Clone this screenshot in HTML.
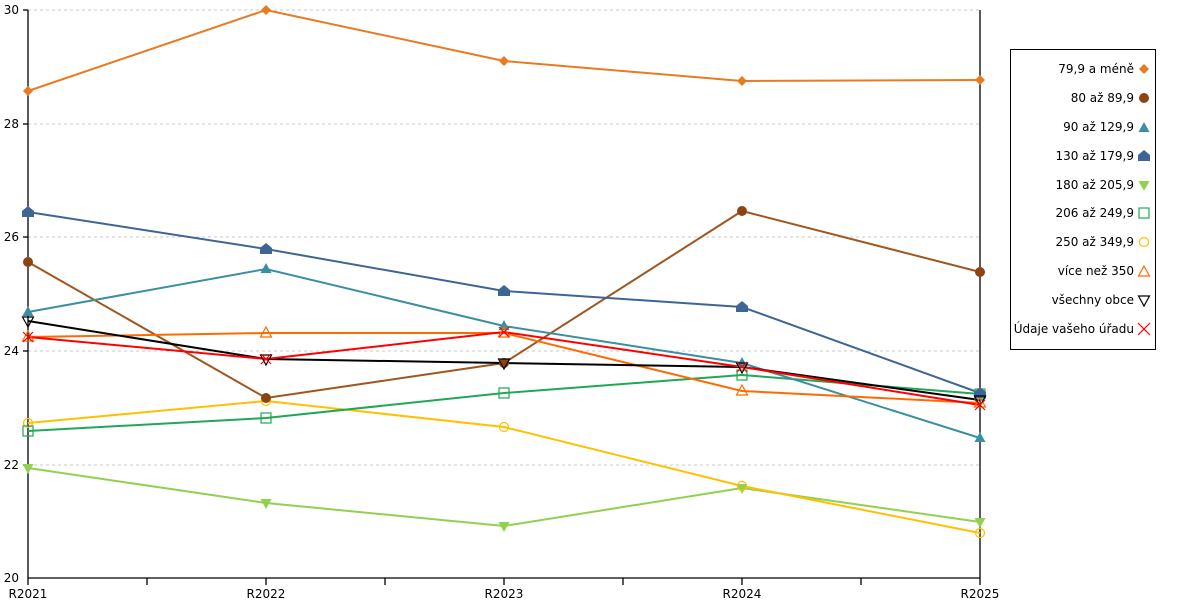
<!DOCTYPE html>
<html><head><meta charset="utf-8"><style>body{margin:0;background:#fff}svg{display:block;font-family:"DejaVu Sans","Liberation Sans",sans-serif}</style></head><body>
<svg width="1200" height="600" xmlns="http://www.w3.org/2000/svg">
<defs>
<path id="dia" d="M0,-5L5,0L0,5L-5,0Z"/>
<path id="tri" d="M0,-6L5.5,4L-5.5,4Z"/>
<path id="house" d="M0,-6L6,-1L6,5L-6,5L-6,-1Z"/>
<path id="dtri" d="M0,6L5.5,-4L-5.5,-4Z"/>
</defs>
<g stroke="#c8c8c8" stroke-dasharray="3,3" stroke-width="1">
<line x1="28" y1="10" x2="980" y2="10"/><line x1="28" y1="124" x2="980" y2="124"/><line x1="28" y1="237" x2="980" y2="237"/><line x1="28" y1="351" x2="980" y2="351"/><line x1="28" y1="465" x2="980" y2="465"/>
</g>
<g stroke="#000" stroke-width="1.3">
<line x1="28" y1="10" x2="28" y2="578"/><line x1="980" y1="10" x2="980" y2="585"/><line x1="28" y1="578" x2="980" y2="578"/>
<line x1="23" y1="10" x2="28" y2="10"/><line x1="23" y1="124" x2="28" y2="124"/><line x1="23" y1="237" x2="28" y2="237"/><line x1="23" y1="351" x2="28" y2="351"/><line x1="23" y1="465" x2="28" y2="465"/>
<line x1="28" y1="578" x2="28" y2="585"/><line x1="147" y1="578" x2="147" y2="585"/><line x1="266" y1="578" x2="266" y2="585"/><line x1="385" y1="578" x2="385" y2="585"/><line x1="504" y1="578" x2="504" y2="585"/><line x1="623" y1="578" x2="623" y2="585"/><line x1="742" y1="578" x2="742" y2="585"/><line x1="861" y1="578" x2="861" y2="585"/>
</g>
<g font-size="12" fill="#000" text-anchor="end">
<text x="19" y="14">30</text><text x="19" y="128">28</text><text x="19" y="241">26</text><text x="19" y="355">24</text><text x="19" y="469">22</text><text x="19" y="582">20</text>
</g>
<g font-size="12" fill="#000" text-anchor="middle">
<text x="28" y="598">R2021</text><text x="266" y="598">R2022</text><text x="504" y="598">R2023</text><text x="742" y="598">R2024</text><text x="980" y="598">R2025</text>
</g>
<g fill="none" stroke-width="2">
<polyline stroke="#92d050" points="28,468 266,503 504,526 742,488 980,522"/>
<polyline stroke="#ffc000" points="28,423 266,401 504,427 742,486 980,533"/>
<polyline stroke="#1fa855" points="28,431 266,418 504,393 742,375 980,394"/>
<polyline stroke="#a0561f" points="28,262 266,398 504,363 742,211 980,272"/>
<polyline stroke="#3a8fa0" points="28,312 266,269 504,326 742,363 980,438"/>
<polyline stroke="#ff6a00" points="28,337 266,333 504,333 742,391 980,403"/>
<polyline stroke="#3d6595" points="28,212 266,249 504,291 742,307 980,393"/>
<polyline stroke="#000" points="28,321 266,359 504,363 742,367 980,400"/>
<polyline stroke="#ff0000" points="28,337 266,359 504,332 742,367 980,405"/>
<polyline stroke="#e87a20" points="28,91 266,10 504,61 742,81 980,80"/>
</g>
<g fill="#92d050"><use href="#dtri" x="28" y="468"/><use href="#dtri" x="266" y="503"/><use href="#dtri" x="504" y="526"/><use href="#dtri" x="742" y="488"/><use href="#dtri" x="980" y="522"/></g>
<g fill="none" stroke="#ffc000" stroke-width="1.2"><circle cx="28" cy="423" r="4.5"/><circle cx="266" cy="401" r="4.5"/><circle cx="504" cy="427" r="4.5"/><circle cx="742" cy="486" r="4.5"/><circle cx="980" cy="533" r="4.5"/></g>
<g fill="none" stroke="#1fa855" stroke-width="1.2"><rect x="23" y="426" width="10" height="10"/><rect x="261" y="413" width="10" height="10"/><rect x="499" y="388" width="10" height="10"/><rect x="737" y="370" width="10" height="10"/><rect x="975" y="389" width="10" height="10"/></g>
<g fill="#8b4513"><circle cx="28" cy="262" r="5"/><circle cx="266" cy="398" r="5"/><circle cx="504" cy="363" r="5"/><circle cx="742" cy="211" r="5"/><circle cx="980" cy="272" r="5"/></g>
<g fill="#3a8fa0"><use href="#tri" x="28" y="312"/><use href="#tri" x="266" y="269"/><use href="#tri" x="504" y="326"/><use href="#tri" x="742" y="363"/><use href="#tri" x="980" y="438"/></g>
<g fill="none" stroke="#ff6a00" stroke-width="1.2"><use href="#tri" x="28" y="337"/><use href="#tri" x="266" y="333"/><use href="#tri" x="504" y="333"/><use href="#tri" x="742" y="391"/><use href="#tri" x="980" y="403"/></g>
<g fill="#3d6595"><use href="#house" x="28" y="212"/><use href="#house" x="266" y="249"/><use href="#house" x="504" y="291"/><use href="#house" x="742" y="307"/><use href="#house" x="980" y="393"/></g>
<g fill="none" stroke="#000" stroke-width="1.2"><use href="#dtri" x="28" y="321"/><use href="#dtri" x="266" y="359"/><use href="#dtri" x="504" y="363"/><use href="#dtri" x="742" y="367"/><use href="#dtri" x="980" y="400"/></g>
<g stroke="#ff0000" stroke-width="1.2"><path d="M23,332l10,10M33,332l-10,10M261,354l10,10M271,354l-10,10M499,327l10,10M509,327l-10,10M737,362l10,10M747,362l-10,10M975,400l10,10M985,400l-10,10"/></g>
<g fill="#e87a20"><use href="#dia" x="28" y="91"/><use href="#dia" x="266" y="10"/><use href="#dia" x="504" y="61"/><use href="#dia" x="742" y="81"/><use href="#dia" x="980" y="80"/></g>
<rect x="1010.5" y="49.5" width="145" height="300" fill="#fff" stroke="#000"/>
<g font-size="12" fill="#000" text-anchor="end">
<text x="1134" y="73">79,9 a méně</text><text x="1134" y="102">80 až 89,9</text><text x="1134" y="131">90 až 129,9</text><text x="1134" y="160">130 až 179,9</text><text x="1134" y="189">180 až 205,9</text><text x="1134" y="217">206 až 249,9</text><text x="1134" y="246">250 až 349,9</text><text x="1134" y="275">více než 350</text><text x="1134" y="304">všechny obce</text><text x="1134" y="333">Údaje vašeho úřadu</text>
</g>
<use href="#dia" x="1144" y="69" fill="#e87a20"/>
<circle cx="1144" cy="98" r="5" fill="#8b4513"/>
<use href="#tri" x="1144" y="128" fill="#3a8fa0"/>
<use href="#house" x="1144" y="156" fill="#3d6595"/>
<use href="#dtri" x="1144" y="185" fill="#92d050"/>
<rect x="1139" y="208" width="10" height="10" fill="none" stroke="#1fa855" stroke-width="1.2"/>
<circle cx="1144" cy="242" r="4.5" fill="none" stroke="#ffc000" stroke-width="1.2"/>
<use href="#tri" x="1144" y="272" fill="none" stroke="#ff6a00" stroke-width="1.2"/>
<use href="#dtri" x="1144" y="300" fill="none" stroke="#000" stroke-width="1.2"/>
<path d="M1138,323l12,12M1150,323l-12,12" stroke="#ff0000" stroke-width="1.2"/>
</svg>
</body></html>
